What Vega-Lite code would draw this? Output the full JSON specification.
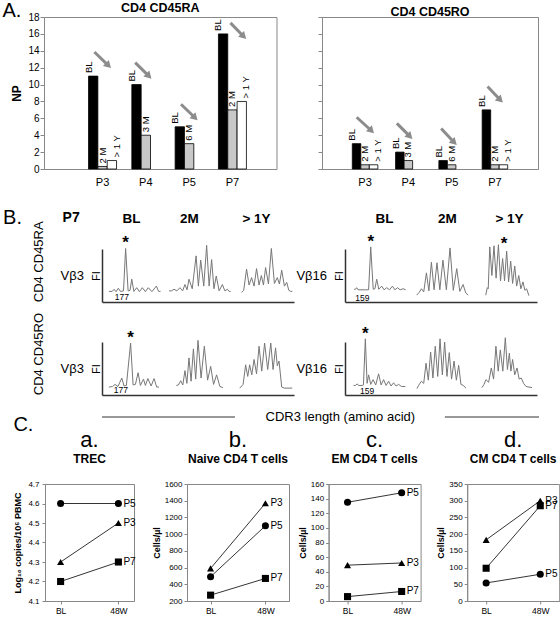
{
"$schema": "https://vega.github.io/schema/vega-lite/v6.json",
"background": "white",
"padding": {"left": 2, "top": 1, "right": 0, "bottom": 0},
"config": {
  "font": "Liberation Sans",
  "view": {"stroke": null},
  "axis": {"grid": false, "labelColor": "#000", "titleColor": "#000"},
  "title": {"color": "#000", "subtitleColor": "#000"}
},
"datasets": {
  "ra": [
    {"p":"P3","slot":"a","kind":"BL","v":11,"lab":"BL"},
    {"p":"P3","slot":"b","kind":"M","v":0.3,"lab":"2 M"},
    {"p":"P3","slot":"c","kind":"Y","v":1,"lab":"> 1 Y"},
    {"p":"P4","slot":"a","kind":"BL","v":10,"lab":"BL"},
    {"p":"P4","slot":"b","kind":"M","v":4,"lab":"3 M"},
    {"p":"P5","slot":"a","kind":"BL","v":5,"lab":"BL"},
    {"p":"P5","slot":"b","kind":"M","v":3,"lab":"6 M"},
    {"p":"P7","slot":"a","kind":"BL","v":16,"lab":"BL"},
    {"p":"P7","slot":"b","kind":"M","v":7,"lab":"2 M"},
    {"p":"P7","slot":"c","kind":"Y","v":8,"lab":"> 1 Y"}
  ],
  "ro": [
    {"p":"P3","slot":"a","kind":"BL","v":3,"lab":"BL"},
    {"p":"P3","slot":"b","kind":"M","v":0.5,"lab":"2 M"},
    {"p":"P3","slot":"c","kind":"Y","v":0.5,"lab":"> 1 Y"},
    {"p":"P4","slot":"a","kind":"BL","v":2,"lab":"BL"},
    {"p":"P4","slot":"b","kind":"M","v":1,"lab":"3 M"},
    {"p":"P5","slot":"a","kind":"BL","v":1,"lab":"BL"},
    {"p":"P5","slot":"b","kind":"M","v":0.5,"lab":"6 M"},
    {"p":"P7","slot":"a","kind":"BL","v":7,"lab":"BL"},
    {"p":"P7","slot":"b","kind":"M","v":0.5,"lab":"2 M"},
    {"p":"P7","slot":"c","kind":"Y","v":0.5,"lab":"> 1 Y"}
  ],
  "raArrow": [
    {"p":"P3","off":0.21,"v":13.85,"end":0},{"p":"P3","off":0.71,"v":12.25,"end":1},
    {"p":"P4","off":0.12,"v":12.6,"end":0},{"p":"P4","off":0.61,"v":11.0,"end":1},
    {"p":"P5","off":0.21,"v":7.67,"end":0},{"p":"P5","off":0.71,"v":6.07,"end":1},
    {"p":"P7","off":0.43,"v":17.3,"end":0},{"p":"P7","off":0.9,"v":15.7,"end":1}
  ],
  "roArrow": [
    {"p":"P3","off":0.17,"v":6.13,"end":0},{"p":"P3","off":0.75,"v":4.53,"end":1},
    {"p":"P4","off":0.05,"v":5.4,"end":0},{"p":"P4","off":0.56,"v":3.86,"end":1},
    {"p":"P5","off":0.09,"v":4.8,"end":0},{"p":"P5","off":0.6,"v":3.15,"end":1},
    {"p":"P7","off":0.21,"v":9.77,"end":0},{"p":"P7","off":0.71,"v":8.17,"end":1}
  ],
  "tr": [
    {"g":"RA3","t":"BL","x":3.6,"y":20},{"g":"RA3","t":"BL","x":5.3,"y":20},{"g":"RA3","t":"BL","x":6.3,"y":24},{"g":"RA3","t":"BL","x":7.3,"y":19.5},{"g":"RA3","t":"BL","x":8.5,"y":26},{"g":"RA3","t":"BL","x":9.6,"y":20},{"g":"RA3","t":"BL","x":11.2,"y":21},{"g":"RA3","t":"BL","x":12.3,"y":101},{"g":"RA3","t":"BL","x":13.6,"y":21},{"g":"RA3","t":"BL","x":14.6,"y":22},{"g":"RA3","t":"BL","x":15.5,"y":43},{"g":"RA3","t":"BL","x":16.6,"y":20},{"g":"RA3","t":"BL","x":18.1,"y":27},{"g":"RA3","t":"BL","x":19.5,"y":19.5},{"g":"RA3","t":"BL","x":21.0,"y":27},{"g":"RA3","t":"BL","x":22.6,"y":19.5},{"g":"RA3","t":"BL","x":24.1,"y":27},{"g":"RA3","t":"BL","x":26,"y":19.5},{"g":"RA3","t":"BL","x":28.3,"y":30},{"g":"RA3","t":"BL","x":29.5,"y":20},{"g":"RA3","t":"BL","x":30.5,"y":20},
    {"g":"RA3","t":"2M","x":34.9,"y":21},{"g":"RA3","t":"2M","x":36.2,"y":21},{"g":"RA3","t":"2M","x":37.5,"y":24},{"g":"RA3","t":"2M","x":39,"y":21},{"g":"RA3","t":"2M","x":40.6,"y":27},{"g":"RA3","t":"2M","x":42,"y":21},{"g":"RA3","t":"2M","x":43.2,"y":33},{"g":"RA3","t":"2M","x":44.3,"y":23},{"g":"RA3","t":"2M","x":45.3,"y":43},{"g":"RA3","t":"2M","x":47,"y":25},{"g":"RA3","t":"2M","x":49,"y":87},{"g":"RA3","t":"2M","x":50.2,"y":30},{"g":"RA3","t":"2M","x":51.4,"y":79},{"g":"RA3","t":"2M","x":53,"y":30},{"g":"RA3","t":"2M","x":54.5,"y":107},{"g":"RA3","t":"2M","x":55.8,"y":30},{"g":"RA3","t":"2M","x":57.1,"y":80},{"g":"RA3","t":"2M","x":58.3,"y":25},{"g":"RA3","t":"2M","x":59.5,"y":49},{"g":"RA3","t":"2M","x":61,"y":21},{"g":"RA3","t":"2M","x":62.7,"y":33},{"g":"RA3","t":"2M","x":64,"y":21},{"g":"RA3","t":"2M","x":65.3,"y":24},{"g":"RA3","t":"2M","x":66.2,"y":20},{"g":"RA3","t":"2M","x":67,"y":20},
    {"g":"RA3","t":"1Y","x":72.7,"y":18},{"g":"RA3","t":"1Y","x":73.8,"y":22},{"g":"RA3","t":"1Y","x":75.3,"y":62},{"g":"RA3","t":"1Y","x":76.6,"y":32},{"g":"RA3","t":"1Y","x":77.9,"y":46},{"g":"RA3","t":"1Y","x":79.2,"y":30},{"g":"RA3","t":"1Y","x":80.5,"y":63},{"g":"RA3","t":"1Y","x":81.8,"y":32},{"g":"RA3","t":"1Y","x":83,"y":50},{"g":"RA3","t":"1Y","x":84.1,"y":32},{"g":"RA3","t":"1Y","x":85.2,"y":65},{"g":"RA3","t":"1Y","x":86.7,"y":34},{"g":"RA3","t":"1Y","x":88.2,"y":101},{"g":"RA3","t":"1Y","x":89.8,"y":35},{"g":"RA3","t":"1Y","x":91.3,"y":46},{"g":"RA3","t":"1Y","x":92.4,"y":34},{"g":"RA3","t":"1Y","x":93.6,"y":60},{"g":"RA3","t":"1Y","x":95,"y":30},{"g":"RA3","t":"1Y","x":96.2,"y":37},{"g":"RA3","t":"1Y","x":97.3,"y":22},{"g":"RA3","t":"1Y","x":98.3,"y":20},{"g":"RA3","t":"1Y","x":99.1,"y":20},
    {"g":"RA16","t":"BL","x":4.7,"y":24},{"g":"RA16","t":"BL","x":5.5,"y":24},{"g":"RA16","t":"BL","x":6.1,"y":27},{"g":"RA16","t":"BL","x":6.8,"y":23},{"g":"RA16","t":"BL","x":10.8,"y":23},{"g":"RA16","t":"BL","x":12.3,"y":23},{"g":"RA16","t":"BL","x":13.4,"y":104},{"g":"RA16","t":"BL","x":14.7,"y":24},{"g":"RA16","t":"BL","x":15.6,"y":25},{"g":"RA16","t":"BL","x":16.5,"y":43},{"g":"RA16","t":"BL","x":17.6,"y":24},{"g":"RA16","t":"BL","x":19.1,"y":30},{"g":"RA16","t":"BL","x":20.4,"y":23},{"g":"RA16","t":"BL","x":21.7,"y":27},{"g":"RA16","t":"BL","x":23.2,"y":23},{"g":"RA16","t":"BL","x":24.7,"y":30},{"g":"RA16","t":"BL","x":26,"y":23},{"g":"RA16","t":"BL","x":27.3,"y":27},{"g":"RA16","t":"BL","x":28.7,"y":23},{"g":"RA16","t":"BL","x":30.2,"y":25},{"g":"RA16","t":"BL","x":31.6,"y":23},
    {"g":"RA16","t":"2M","x":37.3,"y":13},{"g":"RA16","t":"2M","x":38.6,"y":18},{"g":"RA16","t":"2M","x":39.8,"y":25},{"g":"RA16","t":"2M","x":41,"y":19},{"g":"RA16","t":"2M","x":42.4,"y":55},{"g":"RA16","t":"2M","x":43.7,"y":21},{"g":"RA16","t":"2M","x":45,"y":75},{"g":"RA16","t":"2M","x":46.4,"y":23},{"g":"RA16","t":"2M","x":47.9,"y":74},{"g":"RA16","t":"2M","x":49.4,"y":23},{"g":"RA16","t":"2M","x":51,"y":79},{"g":"RA16","t":"2M","x":52.8,"y":23},{"g":"RA16","t":"2M","x":54.7,"y":102},{"g":"RA16","t":"2M","x":56.4,"y":22},{"g":"RA16","t":"2M","x":58.2,"y":63},{"g":"RA16","t":"2M","x":59.8,"y":20},{"g":"RA16","t":"2M","x":61.5,"y":33},{"g":"RA16","t":"2M","x":62.9,"y":17},{"g":"RA16","t":"2M","x":64.2,"y":13},
    {"g":"RA16","t":"1Y","x":73.3,"y":13},{"g":"RA16","t":"1Y","x":74.1,"y":27},{"g":"RA16","t":"1Y","x":74.6,"y":25},{"g":"RA16","t":"1Y","x":75.4,"y":104},{"g":"RA16","t":"1Y","x":76.5,"y":50},{"g":"RA16","t":"1Y","x":77.6,"y":106},{"g":"RA16","t":"1Y","x":78.7,"y":45},{"g":"RA16","t":"1Y","x":79.9,"y":108},{"g":"RA16","t":"1Y","x":81,"y":40},{"g":"RA16","t":"1Y","x":82.1,"y":82},{"g":"RA16","t":"1Y","x":83.1,"y":40},{"g":"RA16","t":"1Y","x":84.2,"y":96},{"g":"RA16","t":"1Y","x":85.2,"y":38},{"g":"RA16","t":"1Y","x":86.3,"y":77},{"g":"RA16","t":"1Y","x":87.3,"y":35},{"g":"RA16","t":"1Y","x":88.4,"y":68},{"g":"RA16","t":"1Y","x":89.4,"y":30},{"g":"RA16","t":"1Y","x":90.5,"y":50},{"g":"RA16","t":"1Y","x":91.6,"y":25},{"g":"RA16","t":"1Y","x":92.7,"y":38},{"g":"RA16","t":"1Y","x":93.7,"y":22},{"g":"RA16","t":"1Y","x":94.6,"y":25},{"g":"RA16","t":"1Y","x":95.8,"y":12},
    {"g":"RO3","t":"BL","x":3.6,"y":15},{"g":"RO3","t":"BL","x":5.5,"y":16},{"g":"RO3","t":"BL","x":6.8,"y":20},{"g":"RO3","t":"BL","x":8.3,"y":16},{"g":"RO3","t":"BL","x":10.3,"y":32},{"g":"RO3","t":"BL","x":11.5,"y":17},{"g":"RO3","t":"BL","x":12.7,"y":18},{"g":"RO3","t":"BL","x":14.9,"y":98},{"g":"RO3","t":"BL","x":16.2,"y":19},{"g":"RO3","t":"BL","x":17.4,"y":20},{"g":"RO3","t":"BL","x":18.8,"y":42},{"g":"RO3","t":"BL","x":20,"y":18},{"g":"RO3","t":"BL","x":21.6,"y":30},{"g":"RO3","t":"BL","x":22.6,"y":18},{"g":"RO3","t":"BL","x":23.9,"y":31},{"g":"RO3","t":"BL","x":25.6,"y":17},{"g":"RO3","t":"BL","x":27.1,"y":31},{"g":"RO3","t":"BL","x":28.5,"y":15},{"g":"RO3","t":"BL","x":29.7,"y":15},
    {"g":"RO3","t":"2M","x":38.7,"y":18},{"g":"RO3","t":"2M","x":39.8,"y":19},{"g":"RO3","t":"2M","x":41,"y":27},{"g":"RO3","t":"2M","x":42.1,"y":19},{"g":"RO3","t":"2M","x":43.2,"y":46},{"g":"RO3","t":"2M","x":44.2,"y":22},{"g":"RO3","t":"2M","x":45.3,"y":70},{"g":"RO3","t":"2M","x":46.4,"y":26},{"g":"RO3","t":"2M","x":47.6,"y":87},{"g":"RO3","t":"2M","x":48.8,"y":30},{"g":"RO3","t":"2M","x":50,"y":103},{"g":"RO3","t":"2M","x":51.6,"y":32},{"g":"RO3","t":"2M","x":53.3,"y":92},{"g":"RO3","t":"2M","x":55,"y":28},{"g":"RO3","t":"2M","x":56.6,"y":54},{"g":"RO3","t":"2M","x":58.1,"y":20},{"g":"RO3","t":"2M","x":59.7,"y":38},{"g":"RO3","t":"2M","x":61.4,"y":16},{"g":"RO3","t":"2M","x":63,"y":14},
    {"g":"RO3","t":"1Y","x":71.7,"y":13},{"g":"RO3","t":"1Y","x":73.5,"y":20},{"g":"RO3","t":"1Y","x":74.8,"y":57},{"g":"RO3","t":"1Y","x":75.9,"y":35},{"g":"RO3","t":"1Y","x":76.9,"y":57},{"g":"RO3","t":"1Y","x":78,"y":38},{"g":"RO3","t":"1Y","x":79.2,"y":67},{"g":"RO3","t":"1Y","x":80.5,"y":40},{"g":"RO3","t":"1Y","x":81.8,"y":92},{"g":"RO3","t":"1Y","x":83.2,"y":45},{"g":"RO3","t":"1Y","x":84.7,"y":98},{"g":"RO3","t":"1Y","x":86.3,"y":48},{"g":"RO3","t":"1Y","x":87.9,"y":98},{"g":"RO3","t":"1Y","x":89.1,"y":48},{"g":"RO3","t":"1Y","x":90.4,"y":89},{"g":"RO3","t":"1Y","x":91.3,"y":55},{"g":"RO3","t":"1Y","x":92.2,"y":64},{"g":"RO3","t":"1Y","x":93.6,"y":15},{"g":"RO3","t":"1Y","x":95,"y":13},{"g":"RO3","t":"1Y","x":99.1,"y":13},
    {"g":"RO16","t":"BL","x":4.5,"y":18},{"g":"RO16","t":"BL","x":5.5,"y":18},{"g":"RO16","t":"BL","x":6.25,"y":21},{"g":"RO16","t":"BL","x":7.2,"y":18},{"g":"RO16","t":"BL","x":8.9,"y":18},{"g":"RO16","t":"BL","x":9.6,"y":19},{"g":"RO16","t":"BL","x":10.6,"y":106},{"g":"RO16","t":"BL","x":11.5,"y":22},{"g":"RO16","t":"BL","x":12.3,"y":38},{"g":"RO16","t":"BL","x":13.4,"y":20},{"g":"RO16","t":"BL","x":14.6,"y":29},{"g":"RO16","t":"BL","x":16,"y":19},{"g":"RO16","t":"BL","x":17.5,"y":40},{"g":"RO16","t":"BL","x":18.8,"y":19},{"g":"RO16","t":"BL","x":20.1,"y":29},{"g":"RO16","t":"BL","x":21.4,"y":18},{"g":"RO16","t":"BL","x":22.7,"y":26},{"g":"RO16","t":"BL","x":24,"y":17},{"g":"RO16","t":"BL","x":25.3,"y":23},{"g":"RO16","t":"BL","x":26.6,"y":17},{"g":"RO16","t":"BL","x":27.9,"y":20},{"g":"RO16","t":"BL","x":29.5,"y":16},{"g":"RO16","t":"BL","x":31.4,"y":16},
    {"g":"RO16","t":"2M","x":37.5,"y":12},{"g":"RO16","t":"2M","x":38.3,"y":18},{"g":"RO16","t":"2M","x":39.8,"y":26},{"g":"RO16","t":"2M","x":41,"y":22},{"g":"RO16","t":"2M","x":42.2,"y":60},{"g":"RO16","t":"2M","x":43.4,"y":28},{"g":"RO16","t":"2M","x":44.6,"y":81},{"g":"RO16","t":"2M","x":45.8,"y":32},{"g":"RO16","t":"2M","x":47,"y":92},{"g":"RO16","t":"2M","x":48.3,"y":35},{"g":"RO16","t":"2M","x":49.5,"y":106},{"g":"RO16","t":"2M","x":50.7,"y":38},{"g":"RO16","t":"2M","x":51.9,"y":100},{"g":"RO16","t":"2M","x":53.1,"y":35},{"g":"RO16","t":"2M","x":54.3,"y":80},{"g":"RO16","t":"2M","x":55.5,"y":30},{"g":"RO16","t":"2M","x":56.8,"y":64},{"g":"RO16","t":"2M","x":58,"y":28},{"g":"RO16","t":"2M","x":59.2,"y":56},{"g":"RO16","t":"2M","x":60.4,"y":20},{"g":"RO16","t":"2M","x":61.6,"y":18},{"g":"RO16","t":"2M","x":63,"y":13},
    {"g":"RO16","t":"1Y","x":71.35,"y":14},{"g":"RO16","t":"1Y","x":72.4,"y":20},{"g":"RO16","t":"1Y","x":73.4,"y":29},{"g":"RO16","t":"1Y","x":74.8,"y":24},{"g":"RO16","t":"1Y","x":76.2,"y":51},{"g":"RO16","t":"1Y","x":77.4,"y":30},{"g":"RO16","t":"1Y","x":78.6,"y":92},{"g":"RO16","t":"1Y","x":79.8,"y":45},{"g":"RO16","t":"1Y","x":80.9,"y":85},{"g":"RO16","t":"1Y","x":82.2,"y":45},{"g":"RO16","t":"1Y","x":83.5,"y":108},{"g":"RO16","t":"1Y","x":84.6,"y":48},{"g":"RO16","t":"1Y","x":85.6,"y":79},{"g":"RO16","t":"1Y","x":86.4,"y":45},{"g":"RO16","t":"1Y","x":87.3,"y":67},{"g":"RO16","t":"1Y","x":88.4,"y":38},{"g":"RO16","t":"1Y","x":89.6,"y":51},{"g":"RO16","t":"1Y","x":90.7,"y":30},{"g":"RO16","t":"1Y","x":91.8,"y":32},{"g":"RO16","t":"1Y","x":93,"y":22},{"g":"RO16","t":"1Y","x":94.3,"y":16},{"g":"RO16","t":"1Y","x":97.4,"y":14}
  ],
  "star": [
    {"g":"RA3","x":12.3,"y":101,"s":"*"},{"g":"RA16","x":13.4,"y":103,"s":"*"},{"g":"RA16","x":82.8,"y":100,"s":"*"},{"g":"RO3","x":14.9,"y":98,"s":"*"},{"g":"RO16","x":10.6,"y":105,"s":"*"}
  ],
  "num": [
    {"g":"RA3","x":10.3,"y":9,"s":"177"},{"g":"RA16","x":9.0,"y":8,"s":"159"},{"g":"RO3","x":9.8,"y":9,"s":"177"},{"g":"RO16","x":11.5,"y":8,"s":"159"}
  ],
  "cdrLine": [{"a":0.1165,"b":0.3835},{"a":0.805,"b":0.994}],
  "cdrText": [{"c":0.595,"t":"CDR3 length (amino acid)"}],
  "cA": [{"pt":"P5","tp":"BL","v":4.6},{"pt":"P5","tp":"48W","v":4.6},{"pt":"P3","tp":"BL","v":4.3},{"pt":"P3","tp":"48W","v":4.5},{"pt":"P7","tp":"BL","v":4.2},{"pt":"P7","tp":"48W","v":4.3}],
  "cB": [{"pt":"P3","tp":"BL","v":590},{"pt":"P3","tp":"48W","v":1370},{"pt":"P5","tp":"BL","v":490},{"pt":"P5","tp":"48W","v":1100},{"pt":"P7","tp":"BL","v":270},{"pt":"P7","tp":"48W","v":470}],
  "cC": [{"pt":"P5","tp":"BL","v":135},{"pt":"P5","tp":"48W","v":148},{"pt":"P3","tp":"BL","v":49},{"pt":"P3","tp":"48W","v":52},{"pt":"P7","tp":"BL","v":6},{"pt":"P7","tp":"48W","v":13}],
  "cD": [{"pt":"P3","tp":"BL","v":183},{"pt":"P3","tp":"48W","v":300},{"pt":"P7","tp":"BL","v":98},{"pt":"P7","tp":"48W","v":285},{"pt":"P5","tp":"BL","v":54},{"pt":"P5","tp":"48W","v":80}]
},
"spacing": 20,
"vconcat": [
  {
    "title": {"text": "A.", "orient": "left", "anchor": "end", "angle": 0, "fontSize": 20, "fontWeight": "normal", "align": "left", "baseline": "top", "offset": -11},
    "spacing": 40,
    "hconcat": [
      {
        "width": 232.5, "height": 152,
        "title": {"text": "CD4 CD45RA", "fontSize": 12.5, "fontWeight": "bold", "offset": -2},
        "view": {"stroke": "#888"},
        "layer": [
          {"data": {"name": "ra"}, "mark": {"type": "bar", "stroke": "#000", "strokeWidth": 0.8},
           "encoding": {
             "x": {"field": "p", "type": "nominal", "scale": {"paddingInner": 0.353, "paddingOuter": 0.8615, "align": 0.597}, "axis": {"title": null, "labelAngle": 0, "ticks": false, "domainColor": "#888", "labelFontSize": 11, "labelPadding": 7}},
             "xOffset": {"field": "slot", "type": "nominal", "scale": {"domain": ["a","b","c"], "paddingInner": 0, "paddingOuter": 0}},
             "y": {"field": "v", "type": "quantitative", "scale": {"domain": [0,18], "nice": false}, "axis": {"title": "NP", "titleFontSize": 12, "titleFontWeight": "bold", "values": [0,2,4,6,8,10,12,14,16,18], "tickCount": 10, "labelOverlap": false, "domainColor": "#888", "tickColor": "#888", "tickSize": 4, "labelFontSize": 10, "labelPadding": 1, "titlePadding": 4}},
             "color": {"field": "kind", "type": "nominal", "scale": {"domain": ["BL","M","Y"], "range": ["#000000","#c8c8c8","#ffffff"]}, "legend": null}
           }},
          {"data": {"name": "ra"}, "mark": {"type": "text", "angle": 270, "align": "left", "baseline": "middle", "dx": 3, "fontSize": 9.5},
           "encoding": {
             "x": {"field": "p", "type": "nominal"},
             "xOffset": {"field": "slot", "type": "nominal", "scale": {"domain": ["a","b","c"], "paddingInner": 0, "paddingOuter": 0}},
             "y": {"field": "v", "type": "quantitative"},
             "text": {"field": "lab"}
           }},
          {"data": {"name": "raArrow"}, "mark": {"type": "line", "color": "#8c8c8c", "strokeWidth": 3},
           "encoding": {
             "x": {"field": "p", "type": "nominal"},
             "xOffset": {"field": "off", "type": "quantitative", "scale": {"domain": [0,1], "nice": false, "zero": false}},
             "y": {"field": "v", "type": "quantitative"},
             "detail": {"field": "p"}
           }},
          {"data": {"name": "raArrow"}, "transform": [{"filter": "datum.end == 1"}], "mark": {"type": "point", "shape": "triangle-right", "angle": 45, "filled": true, "color": "#8c8c8c", "size": 70, "opacity": 1},
           "encoding": {
             "x": {"field": "p", "type": "nominal"},
             "xOffset": {"field": "off", "type": "quantitative", "scale": {"domain": [0,1], "nice": false, "zero": false}},
             "y": {"field": "v", "type": "quantitative"}
           }}
        ],
        "resolve": {"scale": {"xOffset": "independent"}}
      },
      {
        "width": 216, "height": 152,
        "title": {"text": "CD4 CD45RO", "fontSize": 12.5, "fontWeight": "bold", "offset": -2},
        "view": {"stroke": "#888"},
        "layer": [
          {"data": {"name": "ro"}, "mark": {"type": "bar", "stroke": "#000", "strokeWidth": 0.8},
           "encoding": {
             "x": {"field": "p", "type": "nominal", "scale": {"paddingInner": 0.41, "paddingOuter": 0.70}, "axis": {"title": null, "labelAngle": 0, "ticks": false, "domainColor": "#888", "labelFontSize": 11, "labelPadding": 7}},
             "xOffset": {"field": "slot", "type": "nominal", "scale": {"domain": ["a","b","c"], "paddingInner": 0, "paddingOuter": 0}},
             "y": {"field": "v", "type": "quantitative", "scale": {"domain": [0,18], "nice": false}, "axis": {"title": null, "labels": false, "values": [0,2,4,6,8,10,12,14,16,18], "tickCount": 10, "domainColor": "#888", "tickColor": "#888", "tickSize": 4}},
             "color": {"field": "kind", "type": "nominal", "scale": {"domain": ["BL","M","Y"], "range": ["#000000","#c8c8c8","#ffffff"]}, "legend": null}
           }},
          {"data": {"name": "ro"}, "mark": {"type": "text", "angle": 270, "align": "left", "baseline": "middle", "dx": 3, "fontSize": 9.5},
           "encoding": {
             "x": {"field": "p", "type": "nominal"},
             "xOffset": {"field": "slot", "type": "nominal", "scale": {"domain": ["a","b","c"], "paddingInner": 0, "paddingOuter": 0}},
             "y": {"field": "v", "type": "quantitative"},
             "text": {"field": "lab"}
           }},
          {"data": {"name": "roArrow"}, "mark": {"type": "line", "color": "#8c8c8c", "strokeWidth": 3},
           "encoding": {
             "x": {"field": "p", "type": "nominal"},
             "xOffset": {"field": "off", "type": "quantitative", "scale": {"domain": [0,1], "nice": false, "zero": false}},
             "y": {"field": "v", "type": "quantitative"},
             "detail": {"field": "p"}
           }},
          {"data": {"name": "roArrow"}, "transform": [{"filter": "datum.end == 1"}], "mark": {"type": "point", "shape": "triangle-right", "angle": 45, "filled": true, "color": "#8c8c8c", "size": 70, "opacity": 1},
           "encoding": {
             "x": {"field": "p", "type": "nominal"},
             "xOffset": {"field": "off", "type": "quantitative", "scale": {"domain": [0,1], "nice": false, "zero": false}},
             "y": {"field": "v", "type": "quantitative"}
           }}
        ],
        "resolve": {"scale": {"xOffset": "independent"}}
      }
    ]
  },
  {
    "spacing": -10,
    "vconcat": [
      {
        "spacing": 15,
        "vconcat": [
          {
            "title": {"text": "B.", "orient": "left", "anchor": "end", "angle": 0, "fontSize": 20, "fontWeight": "normal", "align": "left", "baseline": "top", "offset": 11, "dy": -3},
            "spacing": 9,
            "vconcat": [
              {
                "title": {"text": "CD4 CD45RA", "orient": "left", "fontSize": 13, "fontWeight": "normal", "offset": -2},
                "spacing": 1,
                "hconcat": [
                  {"width": 15, "height": 10, "data": {"values": []}, "mark": "point"},
                  {
                    "title": {"text": "P7", "anchor": "start", "fontSize": 14, "fontWeight": "bold", "dx": 2, "dy": 18},
                    "vconcat": [
                      {
                        "width": 192, "height": 53,
                        "title": {"text": "Vβ3", "orient": "left", "angle": 0, "fontSize": 13, "fontWeight": "normal", "align": "left", "baseline": "middle", "offset": 6},
                        "layer": [
                          {"data": {"name": "tr"}, "transform": [{"filter": "datum.g == 'RA3'"}], "mark": {"type": "line", "color": "#777", "strokeWidth": 1},
                           "encoding": {
                             "x": {"field": "x", "type": "quantitative", "scale": {"domain": [0,100], "nice": false, "zero": false}, "axis": {"title": null, "labels": false, "ticks": false, "domainColor": "#333", "domainWidth": 1.5}},
                             "y": {"field": "y", "type": "quantitative", "scale": {"domain": [0,100], "nice": false}, "axis": {"title": "FI", "labels": false, "ticks": false, "domainColor": "#333", "domainWidth": 1.5, "titleFontSize": 11, "titleFontWeight": "normal", "titlePadding": 1}},
                             "detail": {"field": "t"}
                           }},
                          {"data": {"name": "star"}, "transform": [{"filter": "datum.g == 'RA3'"}], "mark": {"type": "text", "fontSize": 17, "fontWeight": "bold", "baseline": "alphabetic"},
                           "encoding": {
                             "x": {"field": "x", "type": "quantitative", "axis": {"orient": "top", "title": null, "domain": false, "ticks": false, "values": [15.1,45.3,80.2], "labelExpr": "datum.value < 30 ? 'BL' : datum.value < 60 ? '2M' : '> 1Y'", "labelFontSize": 13.5, "labelFontWeight": "bold", "labelPadding": 24, "labelFlush": false, "labelOverlap": false}},
                             "y": {"field": "y", "type": "quantitative"},
                             "text": {"field": "s"}
                           }},
                          {"data": {"name": "num"}, "transform": [{"filter": "datum.g == 'RA3'"}], "mark": {"type": "text", "fontSize": 8.5, "baseline": "middle"},
                           "encoding": {
                             "x": {"field": "x", "type": "quantitative", "axis": null},
                             "y": {"field": "y", "type": "quantitative"},
                             "text": {"field": "s"}
                           }}
                        ],
                        "resolve": {"axis": {"x": "independent"}}
                      }
                    ]
                  },
                  {
                    "width": 192, "height": 53,
                    "title": {"text": "Vβ16", "orient": "left", "angle": 0, "fontSize": 13, "fontWeight": "normal", "align": "left", "baseline": "middle", "offset": 6},
                    "layer": [
                      {"data": {"name": "tr"}, "transform": [{"filter": "datum.g == 'RA16'"}], "mark": {"type": "line", "color": "#777", "strokeWidth": 1},
                       "encoding": {
                         "x": {"field": "x", "type": "quantitative", "scale": {"domain": [0,100], "nice": false, "zero": false}, "axis": {"title": null, "labels": false, "ticks": false, "domainColor": "#333", "domainWidth": 1.5}},
                         "y": {"field": "y", "type": "quantitative", "scale": {"domain": [0,100], "nice": false}, "axis": {"title": "FI", "labels": false, "ticks": false, "domainColor": "#333", "domainWidth": 1.5, "titleFontSize": 11, "titleFontWeight": "normal", "titlePadding": 1}},
                         "detail": {"field": "t"}
                       }},
                      {"data": {"name": "star"}, "transform": [{"filter": "datum.g == 'RA16'"}], "mark": {"type": "text", "fontSize": 17, "fontWeight": "bold", "baseline": "alphabetic"},
                       "encoding": {
                         "x": {"field": "x", "type": "quantitative", "axis": {"orient": "top", "title": null, "domain": false, "ticks": false, "values": [20.3,53.1,85.4], "labelExpr": "datum.value < 30 ? 'BL' : datum.value < 60 ? '2M' : '> 1Y'", "labelFontSize": 13.5, "labelFontWeight": "bold", "labelPadding": 24, "labelFlush": false, "labelOverlap": false}},
                         "y": {"field": "y", "type": "quantitative"},
                         "text": {"field": "s"}
                       }},
                      {"data": {"name": "num"}, "transform": [{"filter": "datum.g == 'RA16'"}], "mark": {"type": "text", "fontSize": 8.5, "baseline": "middle"},
                       "encoding": {
                         "x": {"field": "x", "type": "quantitative", "axis": null},
                         "y": {"field": "y", "type": "quantitative"},
                         "text": {"field": "s"}
                       }}
                    ],
                    "resolve": {"axis": {"x": "independent"}}
                  }
                ]
              },
              {
                "title": {"text": "CD4 CD45RO", "orient": "left", "fontSize": 13, "fontWeight": "normal", "offset": -2},
                "spacing": 1,
                "hconcat": [
                  {"width": 15, "height": 10, "data": {"values": []}, "mark": "point"},
                  {
                    "width": 192, "height": 53,
                    "title": {"text": "Vβ3", "orient": "left", "angle": 0, "fontSize": 13, "fontWeight": "normal", "align": "left", "baseline": "middle", "offset": 6},
                    "layer": [
                      {"data": {"name": "tr"}, "transform": [{"filter": "datum.g == 'RO3'"}], "mark": {"type": "line", "color": "#777", "strokeWidth": 1},
                       "encoding": {
                         "x": {"field": "x", "type": "quantitative", "scale": {"domain": [0,100], "nice": false, "zero": false}, "axis": {"title": null, "labels": false, "ticks": false, "domainColor": "#333", "domainWidth": 1.5}},
                         "y": {"field": "y", "type": "quantitative", "scale": {"domain": [0,100], "nice": false}, "axis": {"title": "FI", "labels": false, "ticks": false, "domainColor": "#333", "domainWidth": 1.5, "titleFontSize": 11, "titleFontWeight": "normal", "titlePadding": 1}},
                         "detail": {"field": "t"}
                       }},
                      {"data": {"name": "star"}, "transform": [{"filter": "datum.g == 'RO3'"}], "mark": {"type": "text", "fontSize": 17, "fontWeight": "bold", "baseline": "alphabetic"},
                       "encoding": {"x": {"field": "x", "type": "quantitative"}, "y": {"field": "y", "type": "quantitative"}, "text": {"field": "s"}}},
                      {"data": {"name": "num"}, "transform": [{"filter": "datum.g == 'RO3'"}], "mark": {"type": "text", "fontSize": 8.5, "baseline": "middle"},
                       "encoding": {"x": {"field": "x", "type": "quantitative"}, "y": {"field": "y", "type": "quantitative"}, "text": {"field": "s"}}}
                    ]
                  },
                  {
                    "width": 192, "height": 53,
                    "title": {"text": "Vβ16", "orient": "left", "angle": 0, "fontSize": 13, "fontWeight": "normal", "align": "left", "baseline": "middle", "offset": 6},
                    "layer": [
                      {"data": {"name": "tr"}, "transform": [{"filter": "datum.g == 'RO16'"}], "mark": {"type": "line", "color": "#777", "strokeWidth": 1},
                       "encoding": {
                         "x": {"field": "x", "type": "quantitative", "scale": {"domain": [0,100], "nice": false, "zero": false}, "axis": {"title": null, "labels": false, "ticks": false, "domainColor": "#333", "domainWidth": 1.5}},
                         "y": {"field": "y", "type": "quantitative", "scale": {"domain": [0,100], "nice": false}, "axis": {"title": "FI", "labels": false, "ticks": false, "domainColor": "#333", "domainWidth": 1.5, "titleFontSize": 11, "titleFontWeight": "normal", "titlePadding": 1}},
                         "detail": {"field": "t"}
                       }},
                      {"data": {"name": "star"}, "transform": [{"filter": "datum.g == 'RO16'"}], "mark": {"type": "text", "fontSize": 17, "fontWeight": "bold", "baseline": "alphabetic"},
                       "encoding": {"x": {"field": "x", "type": "quantitative"}, "y": {"field": "y", "type": "quantitative"}, "text": {"field": "s"}}},
                      {"data": {"name": "num"}, "transform": [{"filter": "datum.g == 'RO16'"}], "mark": {"type": "text", "fontSize": 8.5, "baseline": "middle"},
                       "encoding": {"x": {"field": "x", "type": "quantitative"}, "y": {"field": "y", "type": "quantitative"}, "text": {"field": "s"}}}
                    ]
                  }
                ]
              }
            ]
          },
          {
            "width": 498, "height": 12,
            "layer": [
              {"data": {"name": "cdrLine"}, "mark": {"type": "rule", "color": "#333", "strokeWidth": 1},
               "encoding": {
                 "x": {"field": "a", "type": "quantitative", "scale": {"domain": [0,1], "nice": false, "zero": false}, "axis": null},
                 "x2": {"field": "b"},
                 "y": {"datum": 0, "type": "quantitative", "scale": {"domain": [-1,1]}, "axis": null}
               }},
              {"data": {"name": "cdrText"}, "mark": {"type": "text", "fontSize": 13, "baseline": "middle"},
               "encoding": {
                 "x": {"field": "c", "type": "quantitative"},
                 "y": {"datum": 0, "type": "quantitative"},
                 "text": {"field": "t"}
               }}
            ]
          }
        ]
      },
      {
        "title": {"text": "C.", "anchor": "start", "fontSize": 20, "fontWeight": "normal", "offset": -6},
        "spacing": -40.5,
        "hconcat": [
          {"width": 1, "height": 10, "data": {"values": []}, "mark": "point"},
          {
            "spacing": 7.6,
            "hconcat": [
              {
                "spacing": 14,
                "hconcat": [
                  {
                    "width": 89, "height": 117,
                    "title": {"text": "a.", "subtitle": "TREC", "fontSize": 22, "fontWeight": "normal", "subtitleFontSize": 12, "subtitleFontWeight": "bold", "subtitlePadding": 2, "offset": 14},
                    "view": {"stroke": "#888"},
                    "data": {"name": "cA"},
                    "encoding": {
                      "x": {"field": "tp", "type": "ordinal", "sort": ["BL","48W"], "scale": {"type": "point", "padding": 0.27}, "axis": {"title": null, "labelAngle": 0, "labelFontSize": 8.5, "domainColor": "#888", "tickColor": "#888", "tickSize": 3, "labelPadding": 2}},
                      "y": {"field": "v", "type": "quantitative", "scale": {"domain": [4.1,4.7], "nice": false, "zero": false}, "axis": {"title": "Log₁₀ copies/10⁶ PBMC", "values": [4.1,4.2,4.3,4.4,4.5,4.6,4.7], "tickCount": 7, "labelOverlap": false, "format": ".1f", "labelFontSize": 8, "titleFontSize": 9, "titleFontWeight": "bold", "domainColor": "#888", "tickColor": "#888", "tickSize": 3, "labelPadding": 3, "titlePadding": 5}}
                    },
                    "layer": [
                      {"mark": {"type": "line", "color": "#000", "strokeWidth": 0.8}, "encoding": {"detail": {"field": "pt"}}},
                      {"mark": {"type": "point", "filled": true, "color": "#000", "opacity": 1, "size": 50}, "encoding": {"shape": {"field": "pt", "type": "nominal", "scale": {"domain": ["P3","P5","P7"], "range": ["triangle-up","circle","square"]}, "legend": null}}},
                      {"transform": [{"filter": "datum.tp == '48W'"}], "mark": {"type": "text", "align": "left", "dx": 5, "fontSize": 10, "baseline": "middle"}, "encoding": {"text": {"field": "pt"}}}
                    ]
                  },
                  {
                    "width": 102, "height": 117,
                    "title": {"text": "b.", "subtitle": "Naive CD4 T cells", "fontSize": 22, "fontWeight": "normal", "subtitleFontSize": 12, "subtitleFontWeight": "bold", "subtitlePadding": 2, "offset": 14},
                    "view": {"stroke": "#888"},
                    "data": {"name": "cB"},
                    "encoding": {
                      "x": {"field": "tp", "type": "ordinal", "sort": ["BL","48W"], "scale": {"type": "point", "padding": 0.43}, "axis": {"title": null, "labelAngle": 0, "labelFontSize": 8.5, "domainColor": "#888", "tickColor": "#888", "tickSize": 3, "labelPadding": 2}},
                      "y": {"field": "v", "type": "quantitative", "scale": {"domain": [200,1600], "nice": false, "zero": false}, "axis": {"title": "Cells/µl", "values": [200,400,600,800,1000,1200,1400,1600], "tickCount": 8, "labelOverlap": false, "format": "d", "labelFontSize": 8, "titleFontSize": 9, "titleFontWeight": "bold", "domainColor": "#888", "tickColor": "#888", "tickSize": 3, "labelPadding": 2, "titlePadding": 3}}
                    },
                    "layer": [
                      {"mark": {"type": "line", "color": "#000", "strokeWidth": 0.8}, "encoding": {"detail": {"field": "pt"}}},
                      {"mark": {"type": "point", "filled": true, "color": "#000", "opacity": 1, "size": 50}, "encoding": {"shape": {"field": "pt", "type": "nominal", "scale": {"domain": ["P3","P5","P7"], "range": ["triangle-up","circle","square"]}, "legend": null}}},
                      {"transform": [{"filter": "datum.tp == '48W'"}], "mark": {"type": "text", "align": "left", "dx": 5, "fontSize": 10, "baseline": "middle"}, "encoding": {"text": {"field": "pt"}}}
                    ]
                  }
                ]
              },
              {
                "spacing": 14.6,
                "hconcat": [
                  {
                    "width": 92, "height": 117,
                    "title": {"text": "c.", "subtitle": "EM CD4 T cells", "fontSize": 22, "fontWeight": "normal", "subtitleFontSize": 12, "subtitleFontWeight": "bold", "subtitlePadding": 2, "offset": 14},
                    "view": {"stroke": "#888"},
                    "data": {"name": "cC"},
                    "encoding": {
                      "x": {"field": "tp", "type": "ordinal", "sort": ["BL","48W"], "scale": {"type": "point", "padding": 0.35}, "axis": {"title": null, "labelAngle": 0, "labelFontSize": 8.5, "domainColor": "#888", "tickColor": "#888", "tickSize": 3, "labelPadding": 2}},
                      "y": {"field": "v", "type": "quantitative", "scale": {"domain": [0,160], "nice": false}, "axis": {"title": "Cells/µl", "values": [0,20,40,60,80,100,120,140,160], "tickCount": 9, "labelOverlap": false, "labelFontSize": 8, "titleFontSize": 9, "titleFontWeight": "bold", "domainColor": "#888", "tickColor": "#888", "tickSize": 3, "labelPadding": 2, "titlePadding": 3}}
                    },
                    "layer": [
                      {"mark": {"type": "line", "color": "#000", "strokeWidth": 0.8}, "encoding": {"detail": {"field": "pt"}}},
                      {"mark": {"type": "point", "filled": true, "color": "#000", "opacity": 1, "size": 50}, "encoding": {"shape": {"field": "pt", "type": "nominal", "scale": {"domain": ["P3","P5","P7"], "range": ["triangle-up","circle","square"]}, "legend": null}}},
                      {"transform": [{"filter": "datum.tp == '48W'"}], "mark": {"type": "text", "align": "left", "dx": 5, "fontSize": 10, "baseline": "middle"}, "encoding": {"text": {"field": "pt"}}}
                    ]
                  },
                  {
                    "width": 92, "height": 117,
                    "title": {"text": "d.", "subtitle": "CM CD4 T cells", "fontSize": 22, "fontWeight": "normal", "subtitleFontSize": 12, "subtitleFontWeight": "bold", "subtitlePadding": 2, "offset": 14},
                    "view": {"stroke": "#888"},
                    "data": {"name": "cD"},
                    "encoding": {
                      "x": {"field": "tp", "type": "ordinal", "sort": ["BL","48W"], "scale": {"type": "point", "padding": 0.35}, "axis": {"title": null, "labelAngle": 0, "labelFontSize": 8.5, "domainColor": "#888", "tickColor": "#888", "tickSize": 3, "labelPadding": 2}},
                      "y": {"field": "v", "type": "quantitative", "scale": {"domain": [0,350], "nice": false}, "axis": {"title": "Cells/µl", "values": [0,50,100,150,200,250,300,350], "tickCount": 8, "labelOverlap": false, "labelFontSize": 8, "titleFontSize": 9, "titleFontWeight": "bold", "domainColor": "#888", "tickColor": "#888", "tickSize": 3, "labelPadding": 2, "titlePadding": 3}}
                    },
                    "layer": [
                      {"mark": {"type": "line", "color": "#000", "strokeWidth": 0.8}, "encoding": {"detail": {"field": "pt"}}},
                      {"mark": {"type": "point", "filled": true, "color": "#000", "opacity": 1, "size": 50}, "encoding": {"shape": {"field": "pt", "type": "nominal", "scale": {"domain": ["P3","P5","P7"], "range": ["triangle-up","circle","square"]}, "legend": null}}},
                      {"transform": [{"filter": "datum.tp == '48W'"}], "mark": {"type": "text", "align": "left", "dx": 5, "fontSize": 10, "baseline": "middle"}, "encoding": {"text": {"field": "pt"}}}
                    ]
                  }
                ]
              }
            ]
          }
        ]
      }
    ]
  }
]
}
